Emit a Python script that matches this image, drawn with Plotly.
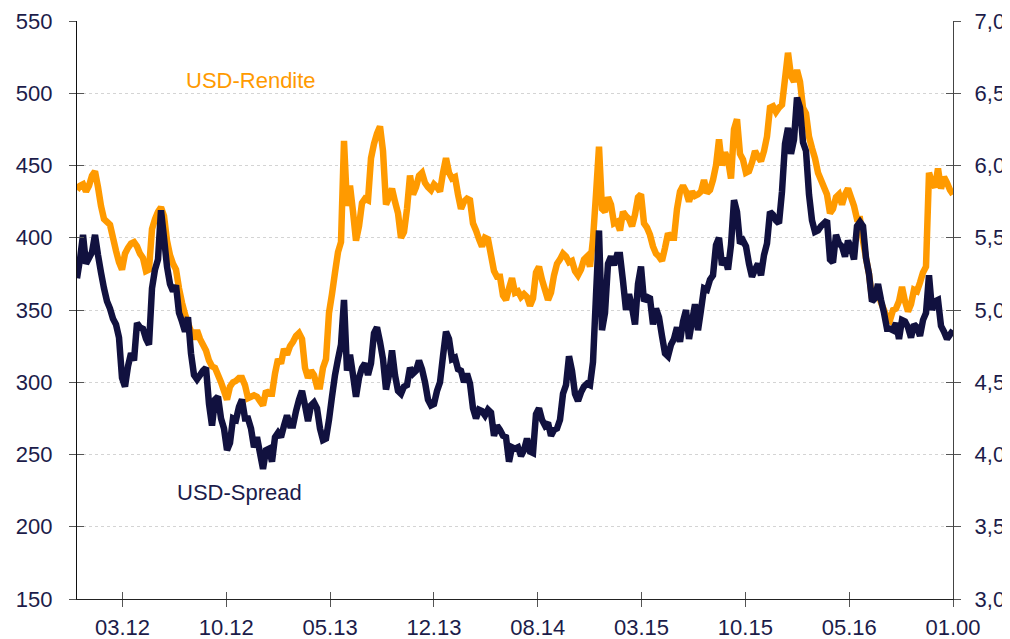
import pandas as pd
import plotly.graph_objects as go

# USD-Spread (left axis, bp)
spread = [
    372, 385, 402, 382, 386, 390, 402, 388, 376, 365,
    356, 351, 344, 340, 331, 303, 297, 311, 320, 315,
    341, 338, 337, 330, 326, 365, 378, 385, 419, 400,
    380, 368, 363, 367, 348, 342, 335, 345, 320, 305,
    302, 305, 308, 310, 285, 270, 288, 290, 275, 268,
    253, 258, 275, 274, 283, 288, 275, 275, 268, 255,
    262, 251, 240, 253, 254, 245, 262, 265, 262, 270,
    277, 270, 270, 280, 288, 294, 284, 273, 284, 286,
    282, 268, 260, 261, 274, 290, 305, 316, 326, 357,
    308, 319, 305, 290, 303, 310, 313, 305, 313, 334,
    338, 328, 316, 295, 305, 322, 305, 294, 292, 297,
    298, 310, 306, 308, 315, 309, 300, 288, 284, 285,
    294, 300, 318, 335, 330, 316, 317, 309, 308, 300,
    306, 299, 282, 275, 281, 280, 277, 281, 279, 263,
    270, 267, 263, 262, 245, 255, 254, 255, 249, 253,
    261, 252, 251, 278, 282, 274, 270, 272, 263, 267,
    268, 274, 292, 298, 318, 308, 292, 287, 293, 297,
    299, 298, 314, 360, 405, 336, 348, 382, 387, 381,
    388, 388, 370, 350, 361, 352, 340, 368, 380, 356,
    359, 358, 340, 351, 345, 332, 320, 318, 326, 330,
    338, 328, 342, 350, 330, 342, 354, 336, 350, 365,
    364, 371, 374, 395, 400, 381, 386, 378, 395, 426,
    418, 396, 398, 394, 382, 373, 378, 382, 374, 388,
    396, 418, 416, 412, 410, 432, 465, 476, 458, 468,
    497, 490, 466, 460, 430, 412, 404, 405, 408, 410,
    412, 385, 383, 402, 396, 394, 387, 398, 393, 385,
    408, 411, 408, 386, 375, 356, 358, 368, 357, 348,
    337, 337, 336, 341, 330, 343, 342, 338, 331, 340,
    338, 332, 343, 348, 374, 350, 356, 357, 339, 335,
    330, 333, 336,
]

# USD-Rendite (right axis, %)
rendite = [
    5.83, 5.86, 5.87, 5.82, 5.86, 5.93, 5.96, 5.85, 5.72, 5.63,
    5.61, 5.59, 5.50, 5.41, 5.33, 5.28, 5.39, 5.43, 5.46, 5.47,
    5.44, 5.39, 5.36, 5.27, 5.28, 5.56, 5.63, 5.68, 5.71, 5.65,
    5.48, 5.38, 5.32, 5.28, 5.15, 5.05, 4.97, 4.91, 4.85, 4.80,
    4.86, 4.80, 4.76, 4.72, 4.65, 4.61, 4.60, 4.55, 4.50, 4.44,
    4.38, 4.47, 4.50, 4.51, 4.53, 4.53, 4.48, 4.39, 4.40, 4.41,
    4.40, 4.37, 4.34, 4.44, 4.42, 4.42, 4.56, 4.66, 4.63, 4.73,
    4.69, 4.75, 4.78, 4.82, 4.84, 4.80, 4.60, 4.53, 4.58, 4.55,
    4.47, 4.47, 4.60, 4.66, 4.98, 5.11, 5.26, 5.40, 5.47, 6.17,
    5.72, 5.86, 5.68, 5.48, 5.58, 5.74, 5.77, 5.76, 6.05, 6.15,
    6.22, 6.27, 6.10, 5.73, 5.78, 5.84, 5.75, 5.67, 5.50, 5.54,
    5.70, 5.93, 5.80, 5.85, 5.93, 5.95, 5.88, 5.85, 5.83, 5.87,
    5.85, 5.82, 5.95, 6.05, 5.95, 5.91, 5.92, 5.80, 5.70, 5.75,
    5.77, 5.76, 5.60, 5.55, 5.49, 5.44, 5.50, 5.49, 5.38, 5.27,
    5.23, 5.23, 5.10, 5.07, 5.15, 5.22, 5.12, 5.13, 5.09, 5.11,
    5.09, 5.03, 5.08, 5.26, 5.30, 5.21, 5.14, 5.07, 5.12, 5.24,
    5.32, 5.35, 5.39, 5.37, 5.33, 5.34, 5.27, 5.24, 5.28, 5.35,
    5.37, 5.30, 5.49, 5.80, 6.13, 5.70, 5.68, 5.78, 5.73, 5.60,
    5.61, 5.55, 5.68, 5.65, 5.63, 5.58, 5.66, 5.78, 5.80, 5.60,
    5.57, 5.52, 5.44, 5.39, 5.37, 5.34, 5.43, 5.53, 5.50, 5.50,
    5.70, 5.82, 5.86, 5.82, 5.75, 5.82, 5.79, 5.80, 5.82, 5.90,
    5.81, 5.83, 5.90, 6.00, 6.18, 6.00, 6.09, 6.04, 5.91, 6.25,
    6.32, 6.08, 6.04, 5.95, 5.96, 6.02, 6.10, 6.06, 6.03, 6.10,
    6.20, 6.40, 6.41, 6.37, 6.40, 6.42, 6.60, 6.78, 6.62, 6.58,
    6.66, 6.58, 6.40, 6.36, 6.20, 6.12, 6.05, 5.95, 5.90, 5.85,
    5.80, 5.67, 5.70, 5.78, 5.80, 5.73, 5.80, 5.84, 5.78, 5.72,
    5.63, 5.63, 5.48, 5.36, 5.25, 5.08, 5.12, 5.12, 5.05, 5.00,
    4.95, 4.93, 5.00, 5.01, 5.06, 5.16, 5.06, 4.99, 5.04, 5.14,
    5.13, 5.19, 5.26, 5.30, 5.95, 5.88, 5.85, 5.98, 5.84, 5.92,
    5.88, 5.83, 5.80,
]

x_tick_labels = ["03.12", "10.12", "05.13", "12.13", "08.14",
                 "03.15", "10.15", "05.16", "01.00"]

start = pd.Timestamp("2011-11-25")
end = pd.Timestamp("2016-11-22")
dates = pd.date_range(start, end, periods=len(spread))

total_days = (end - start).days
first_tick = 94.7
step = (total_days - first_tick) / (len(x_tick_labels) - 1)
tick_vals = [(start + pd.Timedelta(days=first_tick + step * k)).strftime("%Y-%m-%d %H:%M:%S")
             for k in range(len(x_tick_labels))]

NAVY = "#11113f"
ORANGE = "#ff9a00"
TXT = "#1c1c4a"
FONT = "Liberation Sans, Arial, sans-serif"
LW = 6.5

fig = go.Figure()
fig.add_trace(go.Scatter(x=dates, y=rendite, mode="lines", name="USD-Rendite",
                         line=dict(color=ORANGE, width=LW, simplify=False),
                         xaxis="x", yaxis="y", showlegend=False, hoverinfo="skip"))
fig.add_trace(go.Scatter(x=dates, y=spread, mode="lines", name="USD-Spread",
                         line=dict(color=NAVY, width=LW, simplify=False),
                         xaxis="x", yaxis="y2", showlegend=False, hoverinfo="skip"))
# empty helper traces so that the inner tick halves are drawn
fig.add_trace(go.Scatter(x=[None], y=[None], xaxis="x2", yaxis="y", showlegend=False, hoverinfo="skip"))
fig.add_trace(go.Scatter(x=[None], y=[None], xaxis="x", yaxis="y3", showlegend=False, hoverinfo="skip"))
fig.add_trace(go.Scatter(x=[None], y=[None], xaxis="x", yaxis="y4", showlegend=False, hoverinfo="skip"))

xr = [start.strftime("%Y-%m-%d"), end.strftime("%Y-%m-%d")]
tickfont = dict(family=FONT, size=22, color=TXT)
TC = "#555555"

fig.update_layout(
    width=1002, height=631,
    margin=dict(l=69, r=57, t=13, b=40, autoexpand=False),
    paper_bgcolor="white", plot_bgcolor="white",
    separators=",.",
    xaxis=dict(type="date", range=xr, tickmode="array", tickvals=tick_vals,
               ticktext=x_tick_labels, ticks="outside", ticklen=7, tickwidth=1.3,
               tickcolor=TC, showline=True, linecolor="#222222", linewidth=1.3,
               showgrid=False, zeroline=False, tickfont=tickfont, ticklabelstandoff=1,
               automargin=False),
    xaxis2=dict(type="date", range=xr, overlaying="x", tickmode="array", tickvals=tick_vals,
                ticks="inside", ticklen=7, tickwidth=1.3, tickcolor=TC,
                showticklabels=False, showgrid=False, zeroline=False, showline=False,
                automargin=False),
    yaxis=dict(range=[3.0, 7.0], dtick=0.5, tick0=3.0, tickformat=".1f", side="right",
               ticks="outside", ticklen=7, tickwidth=1.3, tickcolor=TC,
               showline=True, linecolor="#444444", linewidth=1.3,
               showgrid=True, gridcolor="#d4d4d4", griddash="dot", gridwidth=1,
               zeroline=False, tickfont=tickfont, ticklabelstandoff=9, automargin=False),
    yaxis2=dict(range=[150, 550], dtick=50, tick0=150, side="left", overlaying="y",
                ticks="outside", ticklen=7, tickwidth=1.3, tickcolor=TC,
                showline=True, linecolor="#111111", linewidth=1.3,
                showgrid=False, zeroline=False, tickfont=tickfont, ticklabelstandoff=12,
                automargin=False),
    yaxis3=dict(range=[150, 550], dtick=50, tick0=150, side="left", overlaying="y",
                ticks="inside", ticklen=7, tickwidth=1.3, tickcolor=TC,
                showticklabels=False, showgrid=False, zeroline=False, showline=False,
                automargin=False),
    yaxis4=dict(range=[3.0, 7.0], dtick=0.5, tick0=3.0, side="right", overlaying="y",
                ticks="inside", ticklen=7, tickwidth=1.3, tickcolor=TC,
                showticklabels=False, showgrid=False, zeroline=False, showline=False,
                automargin=False),
    annotations=[
        dict(text="USD-Rendite", xref="x", yref="y2",
             x=dates[int(len(dates) * 0.20)], y=509, showarrow=False, yanchor="middle",
             font=dict(family=FONT, size=22, color=ORANGE)),
        dict(text="USD-Spread", xref="x", yref="y2",
             x=dates[int(len(dates) * 0.185)], y=224, showarrow=False, yanchor="middle",
             font=dict(family=FONT, size=22, color=TXT)),
    ],
)

fig.write_html("out.html")
